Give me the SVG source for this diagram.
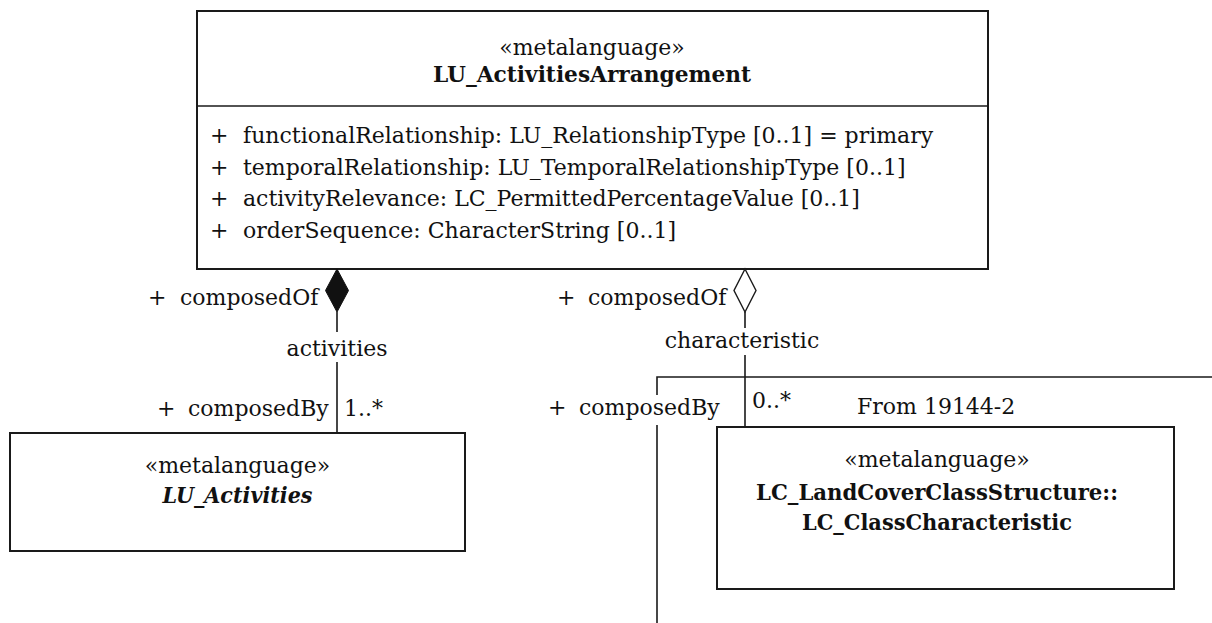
<svg xmlns="http://www.w3.org/2000/svg" width="1212" height="623" viewBox="0 0 1212 623">
  <style>
    .box { fill: #ffffff; stroke: #1a1a1a; stroke-width: 2; }
    .line { fill: none; stroke: #1a1a1a; stroke-width: 1.6; }
    text { font-family: "DejaVu Serif", "Liberation Serif", serif; font-size: 22px; fill: #111111; }
    .c { text-anchor: middle; }
    .b { font-weight: bold; }
    .bi { font-weight: bold; font-style: italic; }
  </style>
  <rect width="1212" height="623" fill="#ffffff"/>

  <!-- package frame "From 19144-2" -->
  <g id="package-19144-2">
    <path class="line" d="M657,623 V425 M657,395 V377 H1212"/>
    <text x="857" y="414">From 19144-2</text>
  </g>

  <!-- LU_ActivitiesArrangement class -->
  <g id="LU_ActivitiesArrangement">
    <rect class="box" x="197" y="11" width="791" height="258"/>
    <line class="line" x1="197" y1="106" x2="988" y2="106" stroke-width="2"/>
    <text class="c" x="592" y="55">«metalanguage»</text>
    <text class="c b" x="592" y="82" textLength="318" lengthAdjust="spacingAndGlyphs">LU_ActivitiesArrangement</text>
    <text x="210" y="143">+</text>
    <text x="243" y="143">functionalRelationship: LU_RelationshipType [0..1] = primary</text>
    <text x="210" y="175">+</text>
    <text x="243" y="175">temporalRelationship: LU_TemporalRelationshipType [0..1]</text>
    <text x="210" y="206">+</text>
    <text x="243" y="206">activityRelevance: LC_PermittedPercentageValue [0..1]</text>
    <text x="210" y="238">+</text>
    <text x="243" y="238">orderSequence: CharacterString [0..1]</text>
  </g>

  <!-- LU_Activities class -->
  <g id="LU_Activities">
    <rect class="box" x="10" y="433" width="455" height="118"/>
    <text class="c" x="237.5" y="473">«metalanguage»</text>
    <text class="c bi" x="237.5" y="503" textLength="150" lengthAdjust="spacingAndGlyphs">LU_Activities</text>
  </g>

  <!-- LC_ClassCharacteristic class -->
  <g id="LC_ClassCharacteristic">
    <rect class="box" x="717" y="427" width="457" height="162"/>
    <text class="c" x="937" y="467">«metalanguage»</text>
    <text class="c b" x="937" y="500" textLength="362" lengthAdjust="spacingAndGlyphs">LC_LandCoverClassStructure::</text>
    <text class="c b" x="937" y="530" textLength="270" lengthAdjust="spacingAndGlyphs">LC_ClassCharacteristic</text>
  </g>

  <!-- associations -->
  <g id="connectors">
    <!-- composition: arrangement to activities -->
    <polygon points="337,269 348.5,290.5 337,312 325.5,290.5" fill="#111111" stroke="#111111" stroke-width="1"/>
    <path class="line" d="M337,312 V332 M337,362 V433"/>
    <text x="148" y="305">+</text>
    <text x="180" y="305">composedOf</text>
    <text class="c" x="337" y="356">activities</text>
    <text x="157" y="416">+</text>
    <text x="188" y="416">composedBy</text>
    <text x="344" y="416">1..*</text>

    <!-- aggregation: arrangement to class characteristic -->
    <polygon points="745,269 756,290.5 745,312 734,290.5" fill="#ffffff" stroke="#1a1a1a" stroke-width="1.4"/>
    <path class="line" d="M745,312 V328 M745,355 V427"/>
    <text x="557" y="305">+</text>
    <text x="588" y="305">composedOf</text>
    <text class="c" x="742" y="348">characteristic</text>
    <text x="548" y="415">+</text>
    <text x="579" y="415">composedBy</text>
    <text x="752" y="408">0..*</text>
  </g>
</svg>
